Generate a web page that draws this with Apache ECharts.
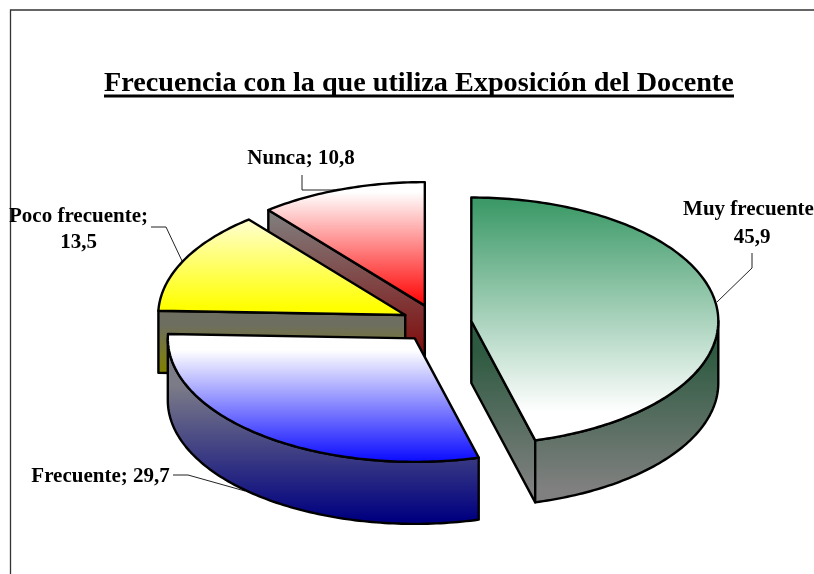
<!DOCTYPE html>
<html>
<head>
<meta charset="utf-8">
<script src="https://cdn.jsdelivr.net/npm/echarts@6/dist/echarts.min.js"></script>
<style>html,body{margin:0;padding:0;background:#fff}#c{width:814px;height:574px}</style>
</head>
<body>
<div id="c"></div>
<script>
var titleText = 'Frecuencia con la que utiliza Exposición del Docente';
var categories = ['Muy frecuente', 'Frecuente', 'Poco frecuente', 'Nunca'];
var values = [45.9, 29.7, 13.5, 10.8];

// Pie projection
var pie = { cx: 436.6, cy: 323.5, rx: 247, ry: 123.5, depth: 62, explodeX: 35, explodeY: 19, seamShift: -0.4 };
// Slice styling: top and side gradients
var topFill = [
  { from: '#3d9a68', to: '#ffffff', y0: 203, y1: 412 },
  { from: '#ffffff', to: '#0a0aff', y0: 350, y1: 462 },
  { from: '#ffffff', to: '#ffff00', y0: 200, y1: 308 },
  { from: '#ffffff', to: '#ff0000', y0: 192, y1: 306 }
];
var sideFill = [
  { from: '#2d5a40', to: '#808080', y0: 350, y1: 490 },
  { from: '#7c7c88', to: '#000080', y0: 385, y1: 520 },
  { from: '#6e6e60', to: '#808000', y0: 325, y1: 372 },
  { from: '#808080', to: '#800000', y0: 211, y1: 368 }
];
// Data label layout
var labelLayout = [
  { x: 752, y: 209, lines: true, lh: 28 },
  { x: 100.5, y: 477, lines: false, lh: 27 },
  { x: 78.5, y: 217, lines: true, lh: 26 },
  { x: 301, y: 159, lines: false, lh: 27 }
];
var leaderLines = [
  [[752, 253], [752, 268], [717, 302]],
  [[173, 475], [188, 475], [245, 491]],
  [[151, 227], [166, 227], [183, 263]],
  [[302, 175], [302, 190], [335, 190]]
];

var total = values.reduce(function (a, b) { return a + b; }, 0);
var RAD = Math.PI / 180;

function grad(f) {
  return new echarts.graphic.LinearGradient(0, f.y0, 0, f.y1, [
    { offset: 0, color: f.from }, { offset: 1, color: f.to }
  ], true);
}
function rim(c, th) { return [c[0] + pie.rx * Math.sin(th * RAD), c[1] - pie.ry * Math.cos(th * RAD)]; }
function arc(c, a, b) {
  var pts = [], n = Math.max(2, Math.ceil(Math.abs(b - a)));
  for (var i = 0; i <= n; i++) pts.push(rim(c, a + (b - a) * i / n));
  return pts;
}
function down(p) { return [p[0], p[1] + pie.depth]; }

function renderSlice(params, api) {
  var i = params.dataIndex, before = 0;
  for (var k = 0; k < i; k++) before += values[k];
  var start = i === 0 ? 0 : pie.seamShift + before / total * 360;
  var end = i === values.length - 1 ? 360 : pie.seamShift + (before + api.value(0)) / total * 360;
  var mid = (start + end) / 2;
  var c = [pie.cx + pie.explodeX * Math.sin(mid * RAD), pie.cy - pie.explodeY * Math.cos(mid * RAD)];
  var z = 100 + Math.round(-Math.cos(mid * RAD) * 50) * 10;
  var stroke = { stroke: '#000', lineWidth: 2.4, lineJoin: 'round' };
  function poly(points, fill, dz) {
    return { type: 'polygon', z2: z + dz, shape: { points: points },
      style: Object.assign({ fill: fill }, stroke) };
  }
  var kids = [], side = grad(sideFill[i]);
  var a = rim(c, start), b = rim(c, end);
  if (Math.sin(start * RAD) < -1e-6) kids.push(poly([c, a, down(a), down(c)], side, 1));
  if (Math.sin(end * RAD) > 1e-6) kids.push(poly([c, b, down(b), down(c)], side, 1));
  var wa = Math.max(start, 90), wb = Math.min(end, 270);
  if (wb > wa) {
    var top = arc(c, wa, wb);
    kids.push(poly(top.concat(top.slice().reverse().map(down)), side, 2));
  }
  kids.push(poly([c].concat(arc(c, start, end)), grad(topFill[i]), 3));
  return { type: 'group', children: kids };
}

function renderLabel(params, api) {
  var i = params.dataIndex, l = labelLayout[i];
  var num = String(api.value(0)).replace('.', ',');
  var sep = l.lines ? ';\n' : '; ';
  return { type: 'group', children: [
    { type: 'polyline', z2: 5, shape: { points: leaderLines[i] },
      style: { fill: null, stroke: '#222', lineWidth: 1 } },
    { type: 'text', z2: 2000, style: {
      text: categories[i] + sep + num, x: l.x, y: l.y,
      align: 'center', verticalAlign: l.lines ? 'top' : 'middle',
      font: 'bold 21px "Liberation Serif"', lineHeight: l.lh, fill: '#000'
    }, y: l.lines ? -13 : 0 }
  ] };
}

var chart = echarts.init(document.getElementById('c'), null, { renderer: 'canvas' });
chart.setOption({
  animation: false,
  backgroundColor: '#ffffff',
  title: { text: titleText, left: 104, top: 70, padding: 0,
    textStyle: { fontFamily: 'Liberation Serif', fontWeight: 'bold', fontSize: 28.2, color: '#000' } },
  graphic: [
    { type: 'polyline', shape: { points: [[814, 10], [10.5, 10], [10.5, 574]] },
      style: { fill: null, stroke: '#333', lineWidth: 1.3 } },
    { type: 'rect', shape: { x: 104, y: 94.5, width: 630, height: 3 }, style: { fill: '#000' } }
  ],
  series: [
    { type: 'custom', coordinateSystem: 'none', renderItem: renderSlice, silent: true, z: 2,
      data: values, encode: { value: 0 } },
    { type: 'custom', coordinateSystem: 'none', renderItem: renderLabel, silent: true, z: 1,
      data: values, encode: { value: 0 } }
  ]
});
</script>
</body>
</html>
